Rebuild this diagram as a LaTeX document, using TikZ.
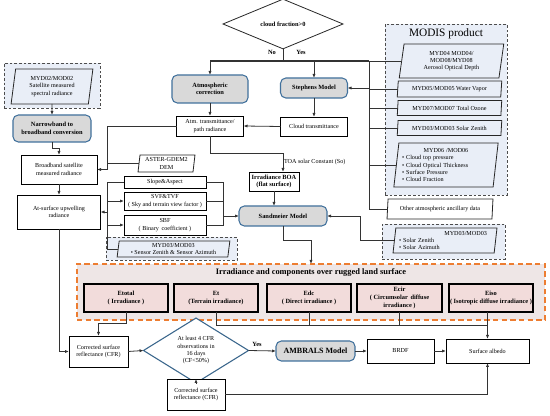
\documentclass[tikz,border=0pt]{standalone}
\usepackage{fontspec}
\setmainfont{Liberation Serif}
\usetikzlibrary{arrows.meta,shapes.geometric}
\definecolor{gfill}{HTML}{D9D9D9}
\definecolor{bborder}{HTML}{41719C}
\definecolor{lblue}{HTML}{E9EEF7}
\definecolor{pfill}{HTML}{F2DCDB}
\definecolor{ofill}{HTML}{EEE6E6}
\definecolor{orng}{HTML}{ED7D31}
\definecolor{lnc}{HTML}{333333}
\newcommand\fsn{\fontsize{4.6}{5.5}\selectfont}
\newcommand\fsbd{\fontsize{4.8}{5.7}\selectfont\bfseries}
\newcommand\fmodis{\fontsize{8.5}{10}\selectfont}
\newcommand\ftitle{\fontsize{6.3}{7.5}\selectfont\bfseries}
\newcommand\famb{\fontsize{6}{7}\selectfont\bfseries}
\tikzset{
  base/.style={inner sep=0pt, outer sep=0pt, align=center, font=\fsn},
  sz/.style 2 args={minimum width=#1*0.75pt, minimum height=#2*0.75pt},
  rbox/.style={base, rectangle, draw=black, line width=0.7pt, fill=white},
  gbox/.style={base, rounded corners=4pt, draw=bborder, line width=0.8pt, fill=gfill, font=\fsbd},
  pgram/.style={base, trapezium, trapezium left angle=82, trapezium right angle=98, trapezium stretches=true, draw=black!85, line width=0.6pt, fill=lblue},
  dbox/.style={base, rectangle, draw=black!70, dash pattern=on 2pt off 1.5pt, line width=0.7pt, fill=lblue},
  ibox/.style={base, rectangle, draw=black, line width=0.85pt, fill=pfill, font=\fsbd},
  conn/.style={draw=lnc, line width=0.6pt},
  arr/.style={conn, -{Latex[length=3pt,width=2.4pt]}},
}
\begin{document}
\begin{tikzpicture}[x=0.75pt, y=-0.75pt]
\fill[white] (0,0) rectangle (550,416);
\useasboundingbox (0,0) rectangle (550,416);

% ---------- top decision ----------
\node[base, diamond, draw=black!85, line width=0.6pt, fill=white, sz={120}{38}, font=\fsbd] (dia1) at (283,24) {cloud fraction>0};
\node[base, font=\fsbd] (nol) at (272,52) {No};
\node[base, font=\fsbd] (yesl) at (301,52) {Yes};
\coordinate (jtop) at (283,61);
\coordinate (jL) at (210,61);
\coordinate (jR) at (369,61);

% ---------- centre column ----------
\node[gbox, sz={76}{28}] (atmc) at (210,89) {Atmospheric\\correction};
\node[gbox, sz={67}{20}] (steph) at (314,88) {Stephens Model};
\node[rbox, sz={67}{20}] (atmt) at (210,126) {Atm. transmittance/\\path radiance};
\node[rbox, sz={67}{19}] (cloudt) at (314,126.5) {Cloud transmittance};
\node[rbox, sz={50}{19}, font=\fsbd] (boa) at (274,181.5) {Irradiance BOA\\(flat surface)};
\node[base, anchor=west] (toal) at (284,162) {TOA solar Constant (So)};
\node[gbox, sz={88}{20}] (sand) at (283,216) {Sandmeier Model};
\coordinate (toa) at (283,153);

% ---------- MODIS product ----------
\node[dbox, sz={122}{171}] (modisbox) at (446,109.5) {};
\node[base, font=\fmodis] (modist) at (446,34) {MODIS product};
\node[pgram, sz={105}{34}] (aod) at (451.5,61) {MYD04 MOD04/\\MOD08/MYD08\\Aerosol Optical Depth};
\node[pgram, sz={105}{16}] (wv) at (449.5,89) {MYD05/MOD05 Water Vapor};
\node[pgram, sz={105}{15}] (oz) at (449.5,108) {MYD07/MOD07 Total Ozone};
\node[pgram, sz={105}{15}] (solz) at (449.5,128) {MYD03/MOD03 Solar Zenith};
\node[pgram, sz={105}{44}, text width=66pt, align=left] (m06) at (446,165) {\makebox[66pt][c]{MYD06 /MOD06}\\• Cloud top pressure\\• Cloud Optical Thickness\\• Surface Pressure\\• Cloud Fraction};
\node[pgram, fill=white, sz={106}{20}] (other) at (440,209) {Other atmospheric ancillary data};
\node[dbox, sz={123}{35}] (solbox) at (443.5,241.5) {};
\node[pgram, sz={104}{25}, text width=69pt, align=left] (solp) at (445,240.5) {\hspace*{34pt}MYD03/MOD03\\• Solar Zenith\\• Solar Azimuth};

% ---------- left column ----------
\node[dbox, sz={96}{45}] (myd02box) at (52,85.5) {};
\node[pgram, sz={82}{35}] (myd02p) at (52,86.5) {MYD02/MOD02\\Satellite measured\\spectral radiance};
\node[gbox, sz={78}{27}] (narrow) at (52,128.5) {Narrowband to\\broadband conversion};
\node[rbox, sz={76}{29}] (broad) at (59,169.5) {Broadband satellite\\measured radiance};
\node[rbox, sz={83}{34}] (atsurf) at (59,212) {At-surface upwelling\\radiance};
\coordinate (nj) at (52,148);

% ---------- terrain inputs ----------
\node[pgram, fill=white, sz={57}{17}] (aster) at (166.5,163.5) {ASTER-GDEM2\\DEM};
\node[rbox, line width=0.6pt, sz={82}{12}] (slope) at (165,182) {Slope\&Aspect};
\node[rbox, sz={82}{18}] (svf) at (165,201) {SVF\&TVF\\( Sky and terrain view factor )};
\node[rbox, sz={82}{20}] (sbf) at (165,225) {SBF\\( Binary\, coefficient )};
\node[dbox, sz={131}{23}] (sensbox) at (171.5,248.5) {};
\node[pgram, sz={113}{16}] (senspar) at (173.5,249) {MYD03/MOD03\\• Sensor Zenith \& Sensor Azimuth};
\coordinate (lb1) at (107,126);
\coordinate (lb2) at (107,182);
\coordinate (rb) at (223,182);

% ---------- irradiance components ----------
\node[base, rectangle, draw=orng, fill=ofill, line width=1pt, dash pattern=on 4pt off 2.5pt, sz={468}{56}] (irrbox) at (311,292) {};
\node[base, font=\ftitle] (irrt) at (311,272) {Irradiance and components over rugged land surface};
\node[ibox, sz={84}{28}] (etot) at (126,298) {Etotal\\( Irradiance )};
\node[ibox, sz={84}{28}] (et) at (216,298) {Et\\(Terrain irradiance)};
\node[ibox, sz={84}{28}] (edc) at (309,298) {Edc\\( Direct irradiance )};
\node[ibox, sz={85}{28}] (ecir) at (399.5,298) {Ecir\\( Circumsolar\, diffuse\\irradiance )};
\node[ibox, sz={84}{28}] (eiso) at (491,298) {Eiso\\( Isotropic diffuse irradiance )};
\coordinate (ej) at (126,323);
\coordinate (hj) at (216,325);

% ---------- bottom row ----------
\node[rbox, sz={59}{31}] (cfr1) at (98.5,351.5) {Corrected surface\\reflectance (CFR)};
\node[base, diamond, draw=bborder!90!black, line width=0.8pt, fill=white, sz={105}{45}] (dia2) at (196,350.5) {At least 4 CFR\\observations in\\16 days\\(CF<50\%)};
\node[base, font=\fsbd] (yes2) at (257,344) {Yes};
\node[gbox, sz={79}{20}, font=\famb] (amb) at (315.5,351) {AMBRALS Model};
\node[rbox, sz={67}{24}] (brdf) at (400.5,351) {BRDF};
\node[rbox, sz={83}{24}] (albedo) at (487.5,351) {Surface albedo};
\node[rbox, sz={58}{31}] (cfr2) at (196,394.5) {Corrected surface\\reflectance (CFR)};

% ---------- connectors ----------
\draw[conn] (dia1.south) -- (jtop);
\draw[conn, line width=1.3pt] (jL) -- (jR);
\draw[conn] (jR) -- (jR -| aod.west);
\draw[arr] (jL) -- (atmc.north);
\draw[arr] (jL -| steph) -- (steph.north);
\draw[conn] (jR) -- (jR |- other.west) -- (other.west);
\draw[conn] (wv.west) -- (wv.west -| jR);
\draw[conn] (oz.west) -- (oz.west -| jR);
\draw[conn] (solz.west) -- (solz.west -| jR);
\draw[conn] (m06.west) -- (m06.west -| jR);
\draw[arr] (steph.east -| jR) -- (steph.east);

\draw[arr] (atmc.south) -- (atmt.north);
\draw[arr] (steph.south) -- (cloudt.north);
\draw[arr] (cloudt.west) -- (atmt.east);
\draw[arr] (atmt.south) |- (toa) -- (toa |- boa.north);
\draw[arr] (boa.south) -- (boa.south |- sand.north);
\coordinate (sj) at (311,240);
\draw[arr] (sand.south) |- (sj) -- (sj |- irrbox.north);
\coordinate (sj2) at (360,241);
\draw[arr] (solp.west) -- (solp.west -| sj2) |- (sand.east);

\draw[arr] (atmt.west) -- (lb1) |- (broad.east);
\draw[conn] (aster.west) -- (aster.west -| lb1);
\draw[conn] (slope.west) -- (lb2) -- (lb2 |- senspar.west) -- (senspar.west);
\draw[arr] (svf.west -| lb2) -- (svf.west);
\draw[arr] (sbf.west -| lb2) -- (sbf.west);
\draw[arr] (atsurf.east -| lb2) -- (atsurf.east);
\draw[conn] (slope.east) -- (rb) -- (rb |- sbf.east) -- (sbf.east);
\draw[conn] (svf.east) -- (svf.east -| rb);
\draw[arr] (sand.west -| rb) -- (sand.west);

\draw[arr] (myd02p.south) -- (narrow.north);
\draw[arr] (narrow.south) -- (nj) -| (broad.north);
\draw[arr] (broad.south) -- (atsurf.north);
\draw[arr] (atsurf.south) |- (cfr1.west);

\draw[arr] (etot.south) -- (ej) -| (cfr1.north);
\draw[arr] (et.south) |- (hj -| albedo.north) -- (albedo.north);
\draw[conn] (edc.south) -- (edc.south |- hj);
\draw[conn] (ecir.south) -- (ecir.south |- hj);
\draw[conn] (eiso.south -| albedo.north) -- (hj -| albedo.north);

\draw[arr] (cfr1.east) -- (dia2.west);
\draw[arr] (dia2.east) -- (amb.west);
\draw[arr] (amb.east) -- (brdf.west);
\draw[arr] (brdf.east) -- (albedo.west);
\draw[arr] (dia2.south) -- (cfr2.north);
\draw[arr] (cfr2.east) -| (albedo.south);
\end{tikzpicture}
\end{document}
